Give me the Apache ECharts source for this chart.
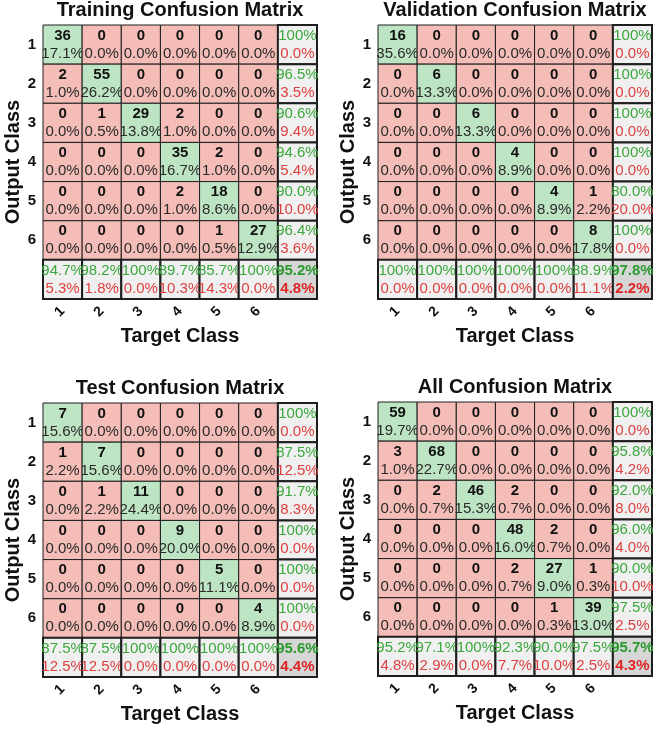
<!DOCTYPE html>
<html>
<head>
<meta charset="utf-8">
<script src="https://cdn.jsdelivr.net/npm/echarts@6/dist/echarts.min.js"></script>
<style>
html,body{margin:0;padding:0;background:#fff;}
#chart{width:660px;height:732px;}
</style>
</head>
<body>
<div id="chart"></div>
<script>
// ---- data ----
const classLabels = ['1', '2', '3', '4', '5', '6'];
const titles = ['Training Confusion Matrix', 'Validation Confusion Matrix', 'Test Confusion Matrix', 'All Confusion Matrix'];
const xAxisName = 'Target Class';
const yAxisName = 'Output Class';
// rows = output class, columns = target class
const trainingCounts = [
  [36, 0, 0, 0, 0, 0],
  [2, 55, 0, 0, 0, 0],
  [0, 1, 29, 2, 0, 0],
  [0, 0, 0, 35, 2, 0],
  [0, 0, 0, 2, 18, 0],
  [0, 0, 0, 0, 1, 27]
];
const validationCounts = [
  [16, 0, 0, 0, 0, 0],
  [0, 6, 0, 0, 0, 0],
  [0, 0, 6, 0, 0, 0],
  [0, 0, 0, 4, 0, 0],
  [0, 0, 0, 0, 4, 1],
  [0, 0, 0, 0, 0, 8]
];
const testCounts = [
  [7, 0, 0, 0, 0, 0],
  [1, 7, 0, 0, 0, 0],
  [0, 1, 11, 0, 0, 0],
  [0, 0, 0, 9, 0, 0],
  [0, 0, 0, 0, 5, 0],
  [0, 0, 0, 0, 0, 4]
];
const allCounts = [
  [59, 0, 0, 0, 0, 0],
  [3, 68, 0, 0, 0, 0],
  [0, 2, 46, 2, 0, 0],
  [0, 0, 0, 48, 2, 0],
  [0, 0, 0, 2, 27, 1],
  [0, 0, 0, 0, 1, 39]
];
const matrices = [trainingCounts, validationCounts, testCounts, allCounts];

// ---- styling ----
const FONT = "'Liberation Sans', Arial, sans-serif";
const GREEN_CELL = '#bde4c3';
const RED_CELL = '#f4bdb7';
const SUM_CELL = '#f0f0f0';
const CORNER_CELL = '#d6d6d6';
const GREEN_TXT = '#3aa83c';
const RED_TXT = '#de3f3f';
const grids = [
  {left: 43, top: 25},
  {left: 378, top: 25},
  {left: 43, top: 403},
  {left: 378, top: 402}
];
const SIZE = 274;

function fmt(v) {
  if (Math.abs(v - 100) < 1e-9) return '100%';
  return v.toFixed(1) + '%';
}

function buildCells(counts) {
  const n = counts.length;
  let total = 0, correct = 0;
  const rowSum = new Array(n).fill(0), colSum = new Array(n).fill(0);
  for (let r = 0; r < n; r++) for (let c = 0; c < n; c++) {
    total += counts[r][c]; rowSum[r] += counts[r][c]; colSum[c] += counts[r][c];
    if (r === c) correct += counts[r][c];
  }
  const main = [], summary = [];
  for (let r = 0; r < n; r++) for (let c = 0; c < n; c++) {
    main.push({c, r, kind: 'main', diag: r === c, top: String(counts[r][c]), bottom: fmt(counts[r][c] / total * 100)});
  }
  for (let r = 0; r < n; r++) {
    const p = counts[r][r] / rowSum[r] * 100;
    summary.push({c: n, r, kind: 'sum', top: fmt(p), bottom: fmt(100 - p)});
  }
  for (let c = 0; c < n; c++) {
    const p = counts[c][c] / colSum[c] * 100;
    summary.push({c, r: n, kind: 'sum', top: fmt(p), bottom: fmt(100 - p)});
  }
  const acc = correct / total * 100;
  summary.push({c: n, r: n, kind: 'corner', top: fmt(acc), bottom: fmt(100 - acc)});
  return main.concat(summary);
}

const cats = classLabels.concat(['']);
const option = {
  backgroundColor: '#fff',
  animation: false,
  title: [], grid: [], xAxis: [], yAxis: [], series: []
};

matrices.forEach((counts, i) => {
  const g = grids[i];
  option.title.push({
    text: titles[i],
    left: g.left + SIZE / 2,
    top: g.top - 25,
    padding: 0,
    textAlign: 'center',
    textStyle: {fontFamily: FONT, fontWeight: 'bold', fontSize: 20, color: '#111', lineHeight: 20}
  });
  option.grid.push({left: g.left, top: g.top, width: SIZE, height: SIZE, containLabel: false});
  option.xAxis.push({
    type: 'category', gridIndex: i, data: cats,
    axisLine: {show: false}, axisTick: {show: false}, splitLine: {show: false},
    axisLabel: {interval: 0, rotate: 45, margin: 10, fontFamily: FONT, fontWeight: 'bold', fontSize: 14, color: '#111'},
    name: xAxisName, nameLocation: 'middle', nameGap: 27,
    nameTextStyle: {fontFamily: FONT, fontWeight: 'bold', fontSize: 20, color: '#111'}
  });
  option.yAxis.push({
    type: 'category', gridIndex: i, data: cats, inverse: true,
    axisLine: {show: false}, axisTick: {show: false}, splitLine: {show: false},
    axisLabel: {interval: 0, margin: 7, fontFamily: FONT, fontWeight: 'bold', fontSize: 15, color: '#111'},
    name: yAxisName, nameLocation: 'middle', nameGap: 17, nameRotate: 90,
    nameTextStyle: {fontFamily: FONT, fontWeight: 'bold', fontSize: 20, color: '#111'}
  });
  const info = buildCells(counts);
  option.series.push({
    type: 'custom', xAxisIndex: i, yAxisIndex: i, clip: false,
    data: info.map(d => [d.c, d.r]),
    renderItem: function (params, api) {
      const d = info[params.dataIndex];
      const p = api.coord([api.value(0), api.value(1)]);
      const s = api.size([1, 1]);
      const w = s[0], h = s[1];
      const x = p[0] - w / 2, y = p[1] - h / 2;
      let fill, topFill, botFill, topFont, botFont, lw;
      if (d.kind === 'main') {
        fill = d.diag ? GREEN_CELL : RED_CELL;
        topFill = '#111'; botFill = '#2a2a2a';
        topFont = 'bold 15px ' + FONT; botFont = '15px ' + FONT; lw = 1;
      } else if (d.kind === 'sum') {
        fill = SUM_CELL; topFill = GREEN_TXT; botFill = RED_TXT;
        topFont = '15px ' + FONT; botFont = '15px ' + FONT; lw = 2;
      } else {
        fill = CORNER_CELL; topFill = '#2a9a2e'; botFill = '#e02525';
        topFont = 'bold 15px ' + FONT; botFont = 'bold 15px ' + FONT; lw = 2;
      }
      return {
        type: 'group',
        children: [
          {type: 'rect', shape: {x: x, y: y, width: w, height: h},
           style: {fill: fill, stroke: '#1e1e1e', lineWidth: lw}},
          {type: 'text', style: {x: x + w / 2, y: y + h * 0.27, text: d.top, fill: topFill, font: topFont,
            align: 'center', verticalAlign: 'middle', textAlign: 'center', textVerticalAlign: 'middle'}},
          {type: 'text', style: {x: x + w / 2, y: y + h * 0.73, text: d.bottom, fill: botFill, font: botFont,
            align: 'center', verticalAlign: 'middle', textAlign: 'center', textVerticalAlign: 'middle'}}
        ]
      };
    }
  });
});

const chart = echarts.init(document.getElementById('chart'), null, {renderer: 'canvas'});
chart.setOption(option);
</script>
</body>
</html>
